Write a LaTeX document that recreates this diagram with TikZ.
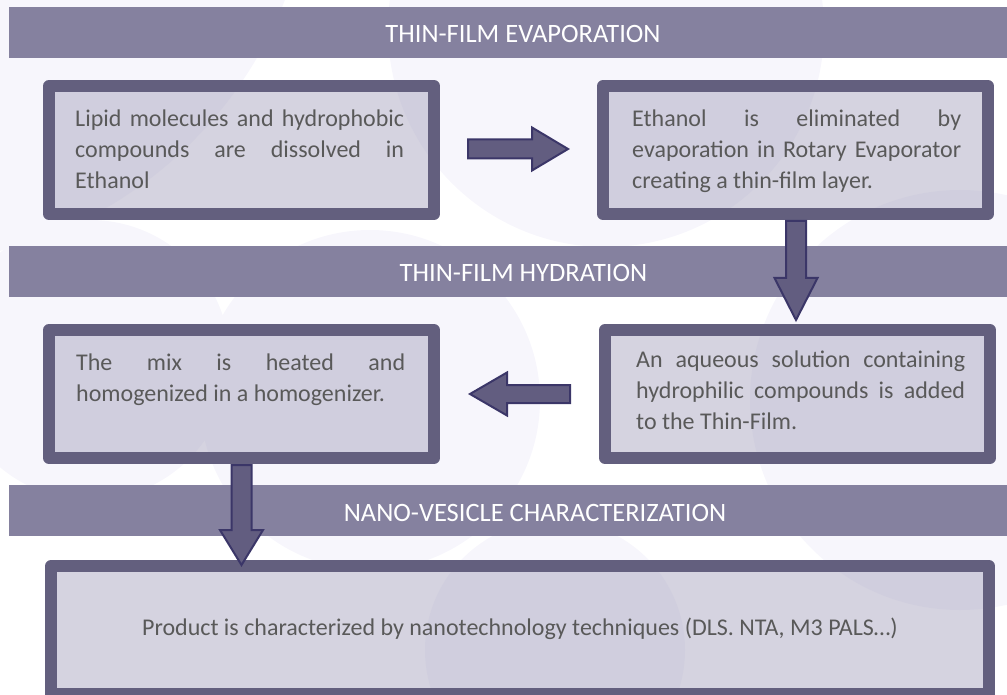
\documentclass[tikz,border=0pt]{standalone}
\usepackage{fontspec}
\setmainfont{Carlito}
\usetikzlibrary{calc}
\definecolor{bandc}{HTML}{85819F}
\definecolor{borderc}{HTML}{635F7E}
\definecolor{innerc}{HTML}{ABA7C1}
\definecolor{arrowf}{HTML}{625D80}
\definecolor{arrowd}{HTML}{3B3668}
\definecolor{txtc}{HTML}{595959}
\definecolor{circc}{HTML}{F7F6FC}
\newcommand\blockarrow[4]{%
  \path ($(#2)!#3!(#1)$) coordinate (ahb);
  \draw[blockarrowstyle] ($(#1)!#4!90:(#2)$) -- ($(ahb)!#4!-90:(#1)$) -- ($(ahb)!21.5pt!-90:(#1)$) -- (#2) -- ($(ahb)!21.5pt!90:(#1)$) -- ($(ahb)!#4!90:(#1)$) -- ($(#1)!#4!-90:(#2)$) -- cycle;
}
\tikzset{
  band/.style={fill=bandc, draw=none, inner sep=0, anchor=north west, minimum width=1010pt, minimum height=51pt},
  bandtext/.style={anchor=base, text=white, inner sep=0, font=\fontsize{26.5}{30}\selectfont},
  box/.style={draw=borderc, line width=12pt, fill=innerc, fill opacity=0.5, draw opacity=1, line join=round, inner sep=0, minimum width=385pt, minimum height=128pt},
  boxtext/.style={anchor=north west, inner sep=0, text width=329pt, align=justify, text=txtc, font=\fontsize{24}{31}\selectfont},
  blockarrowstyle/.style={fill=arrowf, draw=arrowd, line width=2pt, line join=miter},
}
\begin{document}
\begin{tikzpicture}[x=1pt, y=-1pt]
\useasboundingbox (0,0) rectangle (1007,695);
\clip (0,0) rectangle (1007,695);
% background circles
\fill[circc] (-100,-150) circle (413pt);
\fill[circc] (606,29) circle (218pt);
\fill[circc] (960,400) circle (210pt);
\fill[circc] (90,360) circle (140pt);
\fill[circc] (370,400) circle (170pt);
\fill[circc] (555,650) circle (130pt);
% bands
\node[band] (h1) at (9,7) {};
\node[band] (h2) at (9,246) {};
\node[band] (h3) at (9,485) {};
\node[bandtext] (h1t) at (523,43) {THIN-FILM EVAPORATION};
\node[bandtext] (h2t) at (523.5,282) {THIN-FILM HYDRATION};
\node[bandtext] (h3t) at (535,521) {NANO-VESICLE CHARACTERIZATION};
% boxes
\node[box] (b1) at (241.5,150) {};
\node[box] (b2) at (795.5,150) {};
\node[box] (b3) at (241.5,394) {};
\node[box] (b4) at (797.5,394) {};
\node[box, minimum width=938pt] (b5) at (520,630) {};
% texts
\node[boxtext] (t1) at ($(b1.north west)+(32,24.3)$) {\strut Lipid molecules and hydrophobic\linebreak compounds are dissolved in\linebreak Ethanol};
\node[boxtext] (t2) at ($(b2.north west)+(35,24.3)$) {\strut Ethanol is eliminated by\linebreak evaporation in Rotary Evaporator\linebreak creating a thin-film layer.};
\node[boxtext] (t3) at ($(b3.north west)+(33,24.3)$) {\strut The mix is heated and\linebreak homogenized in a homogenizer.};
\node[boxtext] (t4) at ($(b4.north west)+(37,22)$) {\strut An aqueous solution containing\linebreak hydrophilic compounds is added\linebreak to the Thin-Film.};
\node[anchor=base, inner sep=0, text=txtc, font=\fontsize{24}{31}\selectfont] (t5) at ($(b5.center)+(0,5)$) {Product is characterized by nanotechnology techniques (DLS. NTA, M3 PALS…)};
% arrows
\coordinate (a1s) at ($(b1.east)+(28,-1)$);
\coordinate (a1e) at ($(b2.west)+(-29,-1)$);
\coordinate (a2s) at ($(b2.south)+(0.5,1)$);
\coordinate (a2e) at ($(b4.north -| a2s)+(0,-4)$);
\coordinate (a3s) at ($(b4.west)+(-29,0)$);
\coordinate (a3e) at ($(b3.east)+(30,0)$);
\coordinate (a4s) at ($(b3.south)+(0,1)$);
\coordinate (a4e) at ($(b5.north -| a4s)+(0,5)$);
\blockarrow{a1s}{a1e}{36pt}{9.5pt}
\blockarrow{a2s}{a2e}{42pt}{10pt}
\blockarrow{a3s}{a3e}{37pt}{9pt}
\blockarrow{a4s}{a4e}{35pt}{10pt}
\end{tikzpicture}
\end{document}
